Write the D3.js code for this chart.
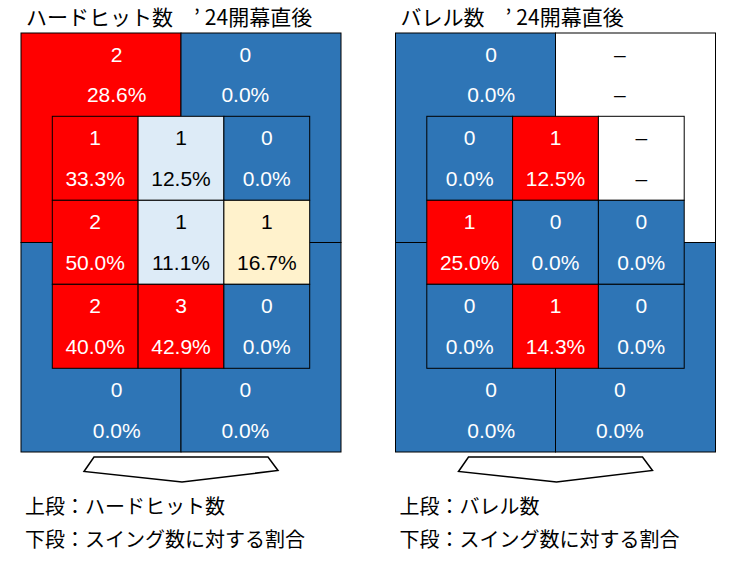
<!DOCTYPE html>
<html>
<head>
<meta charset="utf-8">
<script src="https://cdn.jsdelivr.net/npm/d3@7"></script>
<style>
  html, body { margin: 0; padding: 0; background: #ffffff; }
  svg { display: block; }
</style>
</head>
<body>
<svg id="chart" width="741" height="561"></svg>
<script>
// ---------- DATA ----------
const chartTitles = ["ハードヒット数　’24開幕直後", "バレル数　’24開幕直後"];
const legendTop = ["上段：ハードヒット数", "上段：バレル数"];
const legendBottom = ["下段：スイング数に対する割合", "下段：スイング数に対する割合"];

// Inner 3x3 zone (row-major, top row first). null = no data ("–")
const hardHitCounts = [[1, 1, 0], [2, 1, 1], [2, 3, 0]];
const hardHitPct    = [[33.3, 12.5, 0.0], [50.0, 11.1, 16.7], [40.0, 42.9, 0.0]];
// Outer quadrants: top-left, top-right, bottom-left, bottom-right
const hardHitOuterCounts = [2, 0, 0, 0];
const hardHitOuterPct    = [28.6, 0.0, 0.0, 0.0];

const barrelCounts = [[0, 1, null], [1, 0, 0], [0, 1, 0]];
const barrelPct    = [[0.0, 12.5, null], [25.0, 0.0, 0.0], [0.0, 14.3, 0.0]];
const barrelOuterCounts = [0, null, 0, 0];
const barrelOuterPct    = [0.0, null, 0.0, 0.0];

// colour thresholds (percent) for each chart
const hardHitThresholds = [5, 12.6, 20];
const barrelThresholds  = [5];

// ---------- STYLE ----------
const RED = "#ff0000", BLUE = "#2e75b6", LIGHTBLUE = "#ddebf7", YELLOW = "#fff2cc", WHITE = "#ffffff";
const NUM_FONT = "'Liberation Sans', Arial, sans-serif";
const JP_FONT = "'Noto Sans CJK JP', 'Noto Sans', sans-serif";

const charts = [
  { x0: 21, title: chartTitles[0], lt: legendTop[0], lb: legendBottom[0],
    inner: hardHitCounts, innerPct: hardHitPct, outer: hardHitOuterCounts, outerPct: hardHitOuterPct,
    color: d3.scaleThreshold().domain(hardHitThresholds).range([BLUE, LIGHTBLUE, YELLOW, RED]) },
  { x0: 395.5, title: chartTitles[1], lt: legendTop[1], lb: legendBottom[1],
    inner: barrelCounts, innerPct: barrelPct, outer: barrelOuterCounts, outerPct: barrelOuterPct,
    color: d3.scaleThreshold().domain(barrelThresholds).range([BLUE, RED]) }
];

const svg = d3.select("#chart");
const W = 320, TOP = 33, BOTTOM = 452;
const MX = 31.3, INNER_TOP = 116.3, INNER_BOTTOM = 368.3;
const dy1 = 28.7, dy2 = 70;

function fillFor(c, v) { return v == null ? WHITE : c.color(v); }
function textFor(fill) { return (fill === RED || fill === BLUE) ? "#ffffff" : "#000000"; }
function fmtPct(v) { return v == null ? "–" : d3.format(".1f")(v) + "%"; }
function fmtNum(v) { return v == null ? "–" : String(v); }

charts.forEach(c => {
  const g = svg.append("g");
  const xO = d3.scaleBand().domain([0, 1]).range([c.x0, c.x0 + W]);
  const yO = d3.scaleBand().domain([0, 1]).range([TOP, BOTTOM]);
  const xI = d3.scaleBand().domain([0, 1, 2]).range([c.x0 + MX, c.x0 + W - MX]);
  const yI = d3.scaleBand().domain([0, 1, 2]).range([INNER_TOP, INNER_BOTTOM]);

  // title (split after the apostrophe for spacing)
  const cut = c.title.indexOf("’") + 1;
  const t = g.append("text").attr("x", c.x0 + 5).attr("y", 25)
    .attr("font-family", JP_FONT).attr("font-size", 21).attr("fill", "#000");
  t.append("tspan").text(c.title.slice(0, cut));
  t.append("tspan").attr("dx", 5).text(c.title.slice(cut));

  // outer quadrants
  const quads = c.outer.map((v, i) => ({ v, p: c.outerPct[i], col: i % 2, row: Math.floor(i / 2) }));
  g.selectAll("rect.outer").data(quads).join("rect")
    .attr("class", "outer")
    .attr("x", d => xO(d.col)).attr("y", d => yO(d.row))
    .attr("width", xO.bandwidth()).attr("height", yO.bandwidth())
    .attr("fill", d => fillFor(c, d.p)).attr("stroke", "#000").attr("stroke-width", 1);

  // inner cells
  const cells = [];
  c.inner.forEach((row, r) => row.forEach((v, k) => cells.push({ v, p: c.innerPct[r][k], r, k })));
  g.selectAll("rect.inner").data(cells).join("rect")
    .attr("class", "inner")
    .attr("x", d => xI(d.k)).attr("y", d => yI(d.r))
    .attr("width", xI.bandwidth()).attr("height", yI.bandwidth())
    .attr("fill", d => fillFor(c, d.p)).attr("stroke", "#000").attr("stroke-width", 1);

  // inner labels
  const il = g.selectAll("g.il").data(cells).join("g").attr("class", "il");
  il.append("text")
    .attr("x", d => xI(d.k) + xI.bandwidth() / 2).attr("y", d => yI(d.r) + dy1)
    .attr("text-anchor", "middle").attr("font-family", NUM_FONT).attr("font-size", 21)
    .attr("fill", d => textFor(fillFor(c, d.p))).text(d => fmtNum(d.v));
  il.append("text")
    .attr("x", d => xI(d.k) + xI.bandwidth() / 2).attr("y", d => yI(d.r) + dy2)
    .attr("text-anchor", "middle").attr("font-family", NUM_FONT).attr("font-size", 21)
    .attr("fill", d => textFor(fillFor(c, d.p))).text(d => fmtPct(d.p));

  // outer labels (placed in visible bands above / below inner grid)
  const midX = xO(1);
  const innerL = xI.range()[0], innerR = xI.range()[1];
  const ol = g.selectAll("g.ol").data(quads).join("g").attr("class", "ol");
  const lx = d => d.col === 0 ? (innerL + midX) / 2 : (midX + innerR) / 2;
  const ly = d => d.row === 0 ? TOP : INNER_BOTTOM;
  ol.append("text")
    .attr("x", lx).attr("y", d => ly(d) + dy1)
    .attr("text-anchor", "middle").attr("font-family", NUM_FONT).attr("font-size", 21)
    .attr("fill", d => textFor(fillFor(c, d.p))).text(d => fmtNum(d.v));
  ol.append("text")
    .attr("x", lx).attr("y", d => ly(d) + dy2 - (d.row === 0 ? 1.3 : 0))
    .attr("text-anchor", "middle").attr("font-family", NUM_FONT).attr("font-size", 21)
    .attr("fill", d => textFor(fillFor(c, d.p))).text(d => fmtPct(d.p));

  // arrow
  const cx = c.x0 + W / 2;
  const pts = [[cx - 87, 457], [cx + 87, 457], [cx + 97, 470.5], [cx + 1, 482], [cx - 97, 471.5]];
  g.append("polygon").attr("points", pts.map(p => p.join(",")).join(" "))
    .attr("fill", "#fff").attr("stroke", "#000").attr("stroke-width", 1.5).attr("stroke-linejoin", "miter");

  // legend
  g.append("text").attr("x", c.x0 + 4).attr("y", 514)
    .attr("font-family", JP_FONT).attr("font-size", 20).attr("fill", "#000").text(c.lt);
  g.append("text").attr("x", c.x0 + 4).attr("y", 547)
    .attr("font-family", JP_FONT).attr("font-size", 20).attr("fill", "#000").text(c.lb);
});
</script>
</body>
</html>
